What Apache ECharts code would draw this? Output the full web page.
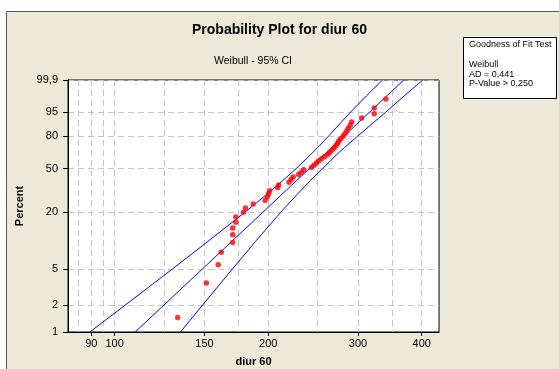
<!DOCTYPE html>
<html>
<head>
<meta charset="utf-8">
<script src="https://cdn.jsdelivr.net/npm/echarts@6/dist/echarts.min.js"></script>
<style>
  html, body { margin: 0; padding: 0; background: #fff; }
  #chart { width: 559px; height: 369px; }
</style>
</head>
<body>
<div id="chart"></div>
<script>
// diur 60 observations (sorted) and their plotted percent
const diur60 = [132.9, 151.3, 159.6, 161.8, 170.4, 170.4, 170.4, 172.8, 172.8, 178.9,
  180.5, 186.9, 197.2, 199.2, 200.4, 201.3, 208.7, 209.6, 219.7, 221.8,
  223.9, 229.5, 232.3, 234.8, 243.1, 246.0, 248.7, 251.3, 254.4, 258.2,
  262.1, 264.1, 266.9, 269.3, 271.8, 273.5, 275.1, 277.6, 280.5, 282.7,
  285.3, 287.0, 289.6, 291.5, 304.9, 322.8, 322.8, 340.3];
const percent = [1.45, 3.51, 5.58, 7.64, 9.71, 11.78, 13.84, 15.91, 17.98, 20.04,
  22.11, 24.17, 26.24, 28.31, 30.37, 32.44, 34.50, 36.57, 38.64, 40.70,
  42.77, 44.83, 46.90, 48.97, 51.03, 53.10, 55.17, 57.23, 59.30, 61.36,
  63.43, 65.50, 67.56, 69.63, 71.69, 73.76, 75.83, 77.89, 79.96, 82.02,
  84.09, 86.16, 88.22, 90.29, 92.36, 94.42, 96.49, 98.55];

// fitted Weibull line and 95% confidence band, read at these percents
const bandPct = [1, 2, 5, 10, 20, 30, 40, 50, 63.2, 70, 80, 90, 95, 99, 99.9];
const fitX = [109.7, 124.9, 148.5, 169.7, 195.1, 212.8, 227.5, 240.8, 257.7, 266.8, 281.5, 300.9, 316.0, 342.2, 368.9];
const lowerX = [89.4, 104.9, 129.7, 152.4, 179.9, 198.7, 213.8, 226.8, 242.3, 250.2, 262.6, 278.0, 290.0, 312.0, 335.0];
const upperX = [134.6, 148.7, 170.1, 188.9, 211.5, 228.0, 242.1, 255.6, 272.5, 282.5, 299.5, 322.0, 340.0, 370.0, 402.0];

const xTicks = [90, 100, 150, 200, 300, 400];
const xGrid = [85, 90, 95, 100, 125, 150, 175, 200, 250, 300, 350, 400];
const yTicks = [1, 2, 5, 20, 50, 80, 95, 99.9];
const yTickLabels = ["1", "2", "5", "20", "50", "80", "95", "99,9"];
const xRange = [81, 432.5];
const pRange = [1, 99.9];

// Weibull probability scale and log scale
const wbl = (p) => Math.log(-Math.log(1 - p / 100));
const lg = (v) => Math.log10(v);

const font = "Liberation Sans, Arial, sans-serif";
const gridColor = "#c4c4c4";
const blue = "#0000ff";

function yLabel(v) {
  const i = yTicks.findIndex((t) => Math.abs(wbl(t) - v) < 1e-6);
  return i >= 0 ? yTickLabels[i] : "";
}

function lineData(xs) {
  return bandPct.map((p, i) => [lg(xs[i]), wbl(p)]);
}

const chart = echarts.init(document.getElementById("chart"), null, { renderer: "canvas" });

chart.setOption({
  animation: false,
  backgroundColor: "#ece9d8",
  title: {
    text: "Probability Plot for diur 60",
    left: "center",
    top: 18,
    textStyle: { fontFamily: font, fontSize: 14, fontWeight: "bold", color: "#000" },
  },
  grid: {
    left: 68, right: 120, top: 80, bottom: 37,
    outerBoundsMode: "none",
    containLabel: false,
    show: true, backgroundColor: "#fff", borderColor: "#000", borderWidth: 1,
  },
  xAxis: [
    {
      type: "value",
      min: lg(xRange[0]), max: lg(xRange[1]),
      position: "bottom",
      name: "diur 60",
      nameLocation: "middle",
      nameGap: 24,
      nameTextStyle: { fontFamily: font, fontSize: 11, fontWeight: "bold", color: "#000" },
      axisLine: { onZero: false, lineStyle: { color: "#000" } },
      axisTick: { length: 4, lineStyle: { color: "#000" }, customValues: xTicks.map(lg) },
      axisLabel: {
        customValues: xTicks.map(lg),
        formatter: (v) => String(Math.round(Math.pow(10, v))),
        fontFamily: font, fontSize: 11, color: "#000", margin: 6,
      },
      splitLine: { show: false },
    },
    {
      type: "value",
      min: lg(xRange[0]), max: lg(xRange[1]),
      position: "top",
      axisLine: { show: false, onZero: false },
      axisTick: { show: false, customValues: xGrid.map(lg) },
      axisLabel: { show: false },
      splitLine: { show: true, lineStyle: { color: gridColor, type: [6, 4], width: 1 } },
    },
  ],
  yAxis: {
    type: "value",
    min: wbl(pRange[0]), max: wbl(pRange[1]),
    name: "Percent",
    nameLocation: "middle",
    nameGap: 40,
    nameRotate: 90,
    nameTextStyle: { fontFamily: font, fontSize: 11, fontWeight: "bold", color: "#000" },
    axisLine: { show: true, onZero: false, lineStyle: { color: "#000" } },
    axisTick: { show: true, length: 5, lineStyle: { color: "#000" }, customValues: yTicks.map(wbl) },
    axisLabel: {
      customValues: yTicks.map(wbl),
      formatter: yLabel,
      fontFamily: font, fontSize: 11, color: "#000", margin: 10,
    },
    splitLine: { show: true, lineStyle: { color: gridColor, type: [6, 4], width: 1 } },
  },
  graphic: [
    { type: "rect", shape: { x: 0, y: 0, width: 559, height: 11 }, style: { fill: "#fff" }, silent: true },
    { type: "rect", shape: { x: 0, y: 0, width: 6, height: 369 }, style: { fill: "#fff" }, silent: true },
    {
      type: "polyline", shape: { points: [[6.5, 369], [6.5, 11.5], [559, 11.5]] },
      style: { stroke: "#5a5a5a", lineWidth: 1, fill: null }, silent: true,
    },
    {
      type: "text", x: 253, y: 61,
      style: { text: "Weibull - 95% CI", font: "10.5px " + font, fill: "#000", textAlign: "center", textVerticalAlign: "middle" },
    },
    {
      type: "rect", shape: { x: 463.5, y: 37.5, width: 93, height: 61 },
      style: { fill: "#fff", stroke: "#000", lineWidth: 1 },
    },
    {
      type: "text", x: 469, y: 45,
      style: { text: "Goodness of Fit Test", font: "9px " + font, fill: "#000", textVerticalAlign: "middle" },
    },
    {
      type: "text", x: 469, y: 60,
      style: { text: "Weibull\nAD = 0,441\nP-Value > 0,250", font: "9px " + font, fill: "#000", lineHeight: 9.5, textVerticalAlign: "top" },
    },
  ],
  series: [
    {
      type: "line", data: lineData(lowerX), showSymbol: false, symbol: "none",
      lineStyle: { color: blue, width: 1 }, z: 2, silent: true,
    },
    {
      type: "line", data: lineData(fitX), showSymbol: false, symbol: "none",
      lineStyle: { color: blue, width: 1 }, z: 2, silent: true,
    },
    {
      type: "line", data: lineData(upperX), showSymbol: false, symbol: "none",
      lineStyle: { color: blue, width: 1 }, z: 2, silent: true,
    },
    {
      type: "scatter",
      data: diur60.map((v, i) => [lg(v), wbl(percent[i])]),
      symbol: "circle", symbolSize: 5.5,
      itemStyle: { color: "#ff0000" },
      z: 3,
    },
  ],
});
</script>
</body>
</html>
